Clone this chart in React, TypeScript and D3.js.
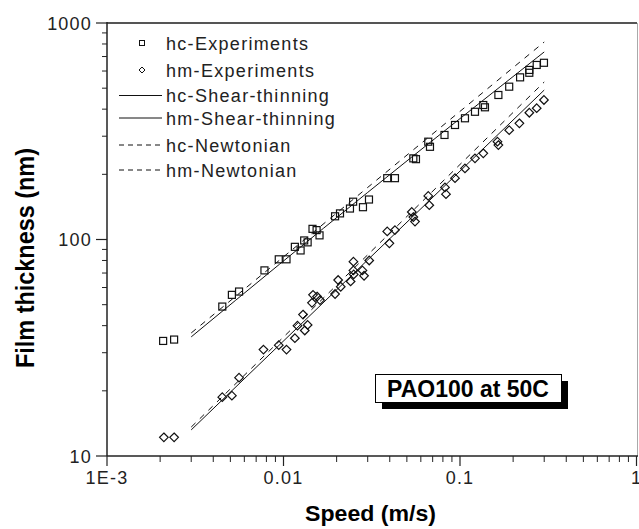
import React from 'react';
import * as d3 from 'd3';

const width = 639;
const height = 529;

// hc experiments: speed (m/s), film thickness (nm)
const hcSpeed = [0.00208, 0.0024, 0.0045, 0.0051, 0.0056, 0.0078, 0.0094, 0.0104, 0.0116, 0.0125, 0.0131, 0.0137, 0.0146, 0.0154, 0.016, 0.0196, 0.0209, 0.0238, 0.0248, 0.0282, 0.0305, 0.0387, 0.0428, 0.0544, 0.0563, 0.0661, 0.0676, 0.0817, 0.0937, 0.1067, 0.1216, 0.1355, 0.1385, 0.165, 0.19, 0.219, 0.247, 0.247, 0.272, 0.299];
const hcThick = [34, 34.5, 49, 55.5, 57.5, 72, 81, 81, 92.5, 89, 99, 97, 112, 110.5, 104.5, 128, 132, 139, 149.5, 141, 153, 192, 192, 237, 235, 283, 268, 304, 338, 363, 389, 418, 408, 465, 508, 561, 607, 589, 640, 655];

// hm experiments
const hmSpeed = [0.0021, 0.0024, 0.0045, 0.0051, 0.0056, 0.0077, 0.0094, 0.0104, 0.0116, 0.012, 0.0129, 0.0132, 0.0137, 0.0145, 0.0147, 0.0155, 0.0161, 0.0196, 0.0211, 0.0204, 0.024, 0.0249, 0.0249, 0.025, 0.028, 0.0286, 0.0306, 0.0387, 0.0398, 0.0428, 0.0533, 0.0556, 0.0544, 0.0661, 0.067, 0.0822, 0.0833, 0.0937, 0.1067, 0.1216, 0.1355, 0.163, 0.165, 0.19, 0.217, 0.247, 0.272, 0.299];
const hmThick = [12.2, 12.2, 18.7, 19, 23, 31, 32.5, 31, 35, 40, 45, 38, 40.3, 51, 55.5, 54.5, 52.5, 56, 60.5, 65, 64, 79, 72, 69, 72, 68, 80, 109, 96, 110.5, 134, 121, 127, 159, 144, 174, 162, 192, 213, 237, 250, 283, 273, 320, 344, 385, 404, 441];

// model curves
const lineSpeed = [0.003, 0.03, 0.3];
const hcShear = [35.5, 165, 735];
const hmShear = [13.2, 80.5, 490];
const hcNewton = [37, 174, 817];
const hmNewton = [13.6, 85, 534];

const xTicks = [0.001, 0.01, 0.1, 1];
const xTickLabels = ['1E-3', '0.01', '0.1', '1'];
const yTicks = [10, 100, 1000];
const yTickLabels = ['10', '100', '1000'];

const legendLabels = ['hc-Experiments', 'hm-Experiments', 'hc-Shear-thinning', 'hm-Shear-thinning', 'hc-Newtonian', 'hm-Newtonian'];
const legendRows = [43, 70, 95.5, 118, 145, 170];

const x = d3.scaleLog().domain([0.001, 1]).range([107, 636.5]);
const y = d3.scaleLog().domain([10, 1000]).range([456, 23]);

const line = d3
  .line<number>()
  .x((d, i) => x(lineSpeed[i]))
  .y(d => y(d))
  .curve(d3.curveMonotoneX);

const minors = (lo: number, hi: number) => {
  const out: number[] = [];
  for (let p = lo; p < hi; p *= 10) {
    for (let k = 2; k <= 9; k++) out.push(p * k);
  }
  return out;
};

const font = '"Liberation Sans", Arial, sans-serif';

const diamond = (r: number) => `M0,${-r}L${r},0L0,${r}L${-r},0Z`;

const App = () => {
  return (
    <svg width={width} height={height} style={{ position: 'absolute', left: 0, top: 0, background: '#fff' }}>
      {/* frame */}
      <line x1={107} x2={637} y1={23} y2={23} stroke="#555" strokeWidth={2} />
      <line x1={637.5} x2={637.5} y1={23} y2={456} stroke="#aaa" strokeWidth={1} />
      <line x1={107} x2={107} y1={22} y2={456} stroke="#222" strokeWidth={1.5} />
      <line x1={107} x2={638} y1={456} y2={456} stroke="#222" strokeWidth={1.5} />

      {/* y ticks */}
      {yTicks.map((t, i) => (
        <g key={'yt' + t}>
          <line x1={96} x2={107} y1={y(t)} y2={y(t)} stroke="#222" strokeWidth={1.2} />
          <text x={92} y={y(t) + 6.5} textAnchor="end" fontFamily={font} fontSize={18} letterSpacing={1.2} fill="#222">
            {yTickLabels[i]}
          </text>
        </g>
      ))}
      {minors(10, 1000).map(t => (
        <line key={'ym' + t} x1={102} x2={107} y1={y(t)} y2={y(t)} stroke="#222" strokeWidth={1} />
      ))}

      {/* x ticks */}
      {xTicks.map((t, i) => (
        <g key={'xt' + t}>
          <line x1={x(t)} x2={x(t)} y1={456} y2={466} stroke="#222" strokeWidth={1.2} />
          <text x={x(t)} y={484} textAnchor="middle" fontFamily={font} fontSize={18} letterSpacing={1.2} fill="#222">
            {xTickLabels[i]}
          </text>
        </g>
      ))}
      {minors(0.001, 1).map(t => (
        <line key={'xm' + t} x1={x(t)} x2={x(t)} y1={456} y2={462} stroke="#222" strokeWidth={1} />
      ))}

      {/* axis titles */}
      <text x={305} y={521} fontFamily={font} fontWeight="bold" fontSize={22} textLength={131} lengthAdjust="spacingAndGlyphs" fill="#000">
        Speed (m/s)
      </text>
      <text
        transform="translate(34,368) rotate(-90)"
        fontFamily={font}
        fontWeight="bold"
        fontSize={26}
        textLength={220}
        lengthAdjust="spacingAndGlyphs"
        fill="#000"
      >
        Film thickness (nm)
      </text>

      {/* model lines */}
      <path d={line(hcShear) || ''} fill="none" stroke="#111" strokeWidth={1} />
      <path d={line(hmShear) || ''} fill="none" stroke="#111" strokeWidth={1} />
      <path d={line(hcNewton) || ''} fill="none" stroke="#111" strokeWidth={1} strokeDasharray="6,6" />
      <path d={line(hmNewton) || ''} fill="none" stroke="#111" strokeWidth={1} strokeDasharray="6,6" />

      {/* experiments */}
      {hcSpeed.map((s, i) => (
        <rect key={'hc' + i} x={x(s) - 3.5} y={y(hcThick[i]) - 3.5} width={7} height={7} fill="none" stroke="#111" strokeWidth={1.2} />
      ))}
      {hmSpeed.map((s, i) => (
        <path key={'hm' + i} d={diamond(4.3)} transform={`translate(${x(s)},${y(hmThick[i])})`} fill="none" stroke="#111" strokeWidth={1.2} />
      ))}

      {/* legend */}
      <rect x={139.5} y={legendRows[0] - 2.5} width={5} height={5} fill="none" stroke="#111" strokeWidth={1} />
      <path d={diamond(3)} transform={`translate(142,${legendRows[1]})`} fill="none" stroke="#111" strokeWidth={1} />
      <line x1={119} x2={162} y1={legendRows[2]} y2={legendRows[2]} stroke="#111" strokeWidth={1} />
      <line x1={119} x2={162} y1={legendRows[3]} y2={legendRows[3]} stroke="#111" strokeWidth={1} />
      <line x1={119} x2={162} y1={legendRows[4]} y2={legendRows[4]} stroke="#111" strokeWidth={1} strokeDasharray="5,4" />
      <line x1={119} x2={162} y1={legendRows[5]} y2={legendRows[5]} stroke="#111" strokeWidth={1} strokeDasharray="5,4" />
      {legendLabels.map((l, i) => (
        <text key={l} x={166} y={legendRows[i] + 6.5} fontFamily={font} fontSize={18} letterSpacing={1.3} fill="#222">
          {l}
        </text>
      ))}

      {/* annotation box */}
      <rect x={382} y={381} width={186} height={28} fill="#000" />
      <rect x={375.5} y={374.5} width={186} height={28} fill="#fff" stroke="#000" strokeWidth={1} />
      <text x={468} y={397} textAnchor="middle" fontFamily={font} fontWeight="bold" fontSize={23} fill="#000">
        PAO100 at 50C
      </text>
    </svg>
  );
};

export default App;
